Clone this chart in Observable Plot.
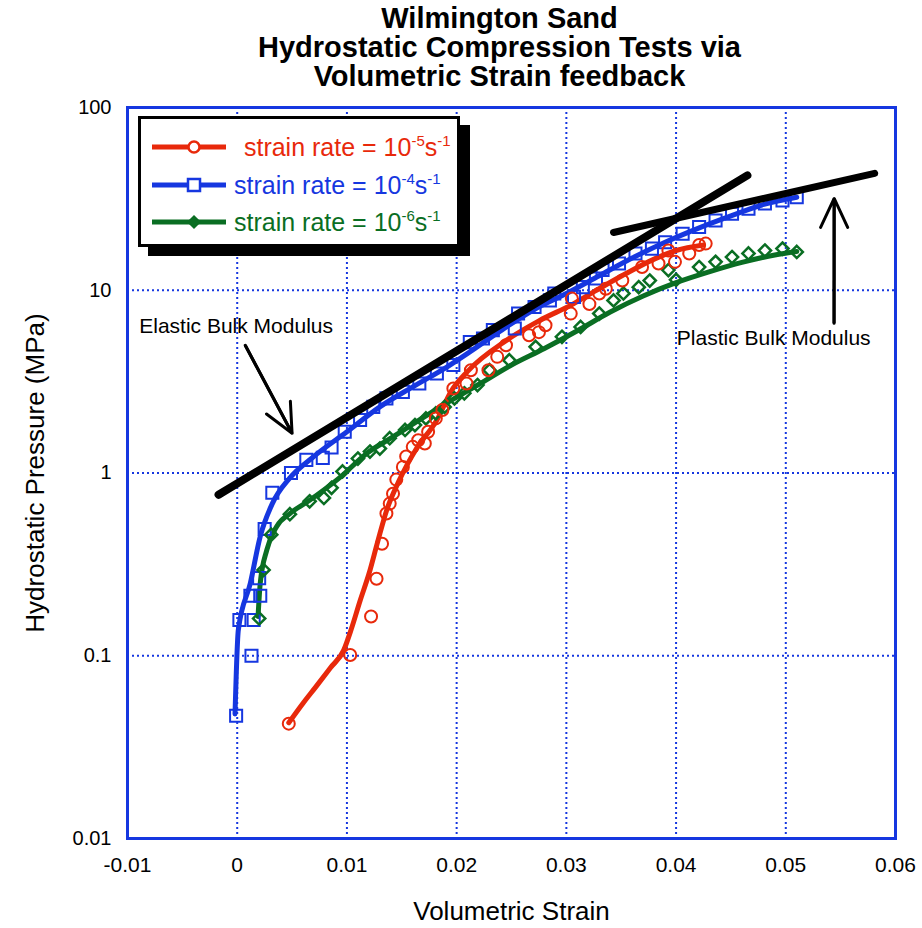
<!DOCTYPE html>
<html>
<head>
<meta charset="utf-8">
<script src="https://cdn.jsdelivr.net/npm/d3@7"></script>
<script src="https://cdn.jsdelivr.net/npm/@observablehq/plot@0.6"></script>
<style>
  html, body { margin: 0; padding: 0; background: #fff; }
  #wrap { position: relative; width: 922px; height: 928px; font-family: "Liberation Sans", Arial, sans-serif; }
  #legend { position: absolute; left: 138px; top: 116px; width: 322px; height: 131px; box-sizing: border-box;
    border: 3px solid #000; box-shadow: 10px 9px 0 #000; background: #fff; }
  #legend .row { position: absolute; left: 0; height: 30px; font-size: 25px; line-height: 30px; white-space: nowrap; }
  #legend sup { font-size: 15px; vertical-align: 10px; line-height: 0; }
  #legend svg { position: absolute; left: 11px; }
</style>
</head>
<body>
<div id="wrap"></div>
<script>
const title = ["Wilmington Sand", "Hydrostatic Compression Tests via", "Volumetric Strain feedback"];
const titleDy = [-89, -60, -31];
const xLabel = "Volumetric Strain";
const yLabel = "Hydrostatic Pressure (MPa)";
const xTicks = [-0.01, 0, 0.01, 0.02, 0.03, 0.04, 0.05, 0.06];
const yTicks = [0.01, 0.1, 1, 10, 100];

const seriesNames = ["1e-5", "1e-4", "1e-6"];
const seriesColors = ["#e8290b", "#1637e0", "#0a6e23"];

// strain rate 1e-4 (blue squares)
const blueX = [-0.0001, 0.0002, 0.0013, 0.0015, 0.0012, 0.0021, 0.0020, 0.0025, 0.0032, 0.0049, 0.0063, 0.0078, 0.0086, 0.0098, 0.0112, 0.0124, 0.0136, 0.0151, 0.0166, 0.0182, 0.0197, 0.0212, 0.0224, 0.0233, 0.0253, 0.0256, 0.0271, 0.0285, 0.0289, 0.0307, 0.0315, 0.0327, 0.0333, 0.0348, 0.0363, 0.0378, 0.0390, 0.0406, 0.0421, 0.0436, 0.0451, 0.0466, 0.0481, 0.0497, 0.0510];
const blueY = [0.047, 0.157, 0.100, 0.157, 0.213, 0.213, 0.266, 0.494, 0.78, 1.0, 1.18, 1.21, 1.38, 1.68, 1.95, 2.30, 2.56, 2.78, 3.09, 3.50, 3.9, 5.2, 5.44, 6.05, 6.17, 7.46, 8.1, 8.8, 9.6, 9.2, 10.4, 11.6, 12.9, 14.0, 15.9, 16.9, 18.3, 20.4, 22.2, 24.1, 26.2, 27.9, 29.8, 31.0, 32.3];
const blueLineX = [-0.0002, 0.0001, 0.0012, 0.0021, 0.0032, 0.0048, 0.0069, 0.0100, 0.0130, 0.0160, 0.0191, 0.0212, 0.0240, 0.0270, 0.0300, 0.0330, 0.0360, 0.0390, 0.0420, 0.0450, 0.0480, 0.0510];
const blueLineY = [0.048, 0.138, 0.25, 0.45, 0.68, 0.94, 1.22, 1.68, 2.3, 2.96, 3.8, 4.6, 6.0, 7.8, 9.6, 12.0, 15.0, 18.3, 21.8, 25.5, 29.5, 32.3];

// strain rate 1e-5 (red circles)
const redX = [0.0047, 0.0103, 0.0122, 0.0127, 0.0132, 0.0136, 0.0139, 0.0142, 0.0145, 0.0151, 0.0154, 0.0160, 0.0165, 0.0171, 0.0174, 0.0181, 0.0187, 0.0197, 0.0209, 0.0213, 0.0229, 0.0237, 0.0245, 0.0266, 0.0275, 0.0281, 0.0304, 0.0305, 0.0321, 0.0330, 0.0336, 0.0351, 0.0369, 0.0384, 0.0393, 0.0399, 0.0412, 0.0421, 0.0427];
const redY = [0.0425, 0.101, 0.164, 0.264, 0.41, 0.60, 0.68, 0.77, 0.92, 1.08, 1.23, 1.39, 1.51, 1.45, 1.68, 1.99, 2.21, 2.9, 3.09, 3.65, 3.65, 4.32, 5.0, 5.67, 5.9, 6.43, 7.45, 9.0, 8.4, 9.6, 10.2, 11.3, 13.4, 14.0, 16.5, 14.3, 15.9, 17.7, 18.0];
const redLineX = [0.0047, 0.0060, 0.0072, 0.0085, 0.0097, 0.0104, 0.0112, 0.0120, 0.0128, 0.0136, 0.0148, 0.0163, 0.0182, 0.0195, 0.0210, 0.0245, 0.0275, 0.0306, 0.0330, 0.0354, 0.0380, 0.0400, 0.0425];
const redLineY = [0.043, 0.055, 0.068, 0.086, 0.107, 0.14, 0.2, 0.28, 0.42, 0.62, 0.92, 1.35, 1.95, 2.8, 3.6, 5.3, 6.8, 8.4, 10.2, 12.3, 14.8, 16.5, 17.7];

// strain rate 1e-6 (green diamonds)
const greenX = [0.0020, 0.0024, 0.0031, 0.0048, 0.0066, 0.0079, 0.0086, 0.0096, 0.0110, 0.0121, 0.0130, 0.0139, 0.0153, 0.0162, 0.0172, 0.0181, 0.0189, 0.0198, 0.0207, 0.0219, 0.0230, 0.0248, 0.0272, 0.0296, 0.0313, 0.0330, 0.0343, 0.0352, 0.0366, 0.0376, 0.0393, 0.0400, 0.0421, 0.0436, 0.0451, 0.0466, 0.0481, 0.0497, 0.0510];
const greenY = [0.16, 0.295, 0.46, 0.595, 0.70, 0.73, 0.83, 1.02, 1.2, 1.31, 1.36, 1.55, 1.72, 1.83, 1.99, 2.12, 2.30, 2.56, 2.73, 3.03, 3.65, 4.14, 4.9, 5.56, 6.3, 7.46, 8.8, 9.6, 10.4, 11.3, 12.9, 11.4, 13.4, 14.3, 15.2, 15.9, 16.5, 16.9, 16.2];
const greenLineX = [0.0019, 0.0021, 0.0027, 0.0036, 0.0048, 0.0066, 0.0094, 0.0118, 0.0140, 0.0160, 0.0180, 0.0200, 0.0220, 0.0250, 0.0280, 0.0310, 0.0340, 0.0370, 0.0400, 0.0430, 0.0460, 0.0490, 0.0510];
const greenLineY = [0.164, 0.25, 0.38, 0.51, 0.60, 0.71, 0.95, 1.28, 1.55, 1.85, 2.2, 2.6, 3.05, 3.9, 4.8, 6.0, 7.6, 9.3, 11.0, 12.6, 14.2, 15.6, 16.3];

// modulus tangent lines
const elasticX = [-0.0017, 0.0465];
const elasticY = [0.76, 42.5];
const plasticX = [0.0343, 0.0581];
const plasticY = [20.7, 43.6];

// annotations
const annoText = ["Elastic Bulk Modulus", "Plastic Bulk Modulus"];
const annoX = [-0.0001, 0.0489];
const annoY = [6.36, 5.47];
const arrowX1 = [0.00073, 0.0544];
const arrowY1 = [5.0, 6.6];
const arrowX2 = [0.0050, 0.05441];
const arrowY2 = [1.65, 31.8];

const zip = (xs, ys) => xs.map((x, i) => ({x, y: ys[i]}));
const blue = zip(blueX, blueY), red = zip(redX, redY), green = zip(greenX, greenY);
const blueLine = zip(blueLineX, blueLineY), redLine = zip(redLineX, redLineY), greenLine = zip(greenLineX, greenLineY);
const elastic = zip(elasticX, elasticY), plastic = zip(plasticX, plasticY);
const annos = annoText.map((t, i) => ({t, x: annoX[i], y: annoY[i]}));
const arrows = arrowX1.map((x1, i) => ({x1, y1: arrowY1[i], x2: arrowX2[i], y2: arrowY2[i]}));
const titleRows = title.map((t, i) => ({t, dy: titleDy[i]}));

const gridColor = "#1637e0";
const font = "Liberation Sans, Arial, sans-serif";

const chart = Plot.plot({
  width: 922,
  height: 928,
  marginTop: 107,
  marginBottom: 90,
  marginLeft: 127,
  marginRight: 27,
  style: {fontFamily: font, background: "white", overflow: "visible"},
  x: {domain: [-0.01, 0.06]},
  y: {type: "log", domain: [0.01, 100]},
  marks: [
    Plot.gridX(xTicks, {stroke: gridColor, strokeOpacity: 1, strokeWidth: 2, strokeDasharray: "2,3"}),
    Plot.gridY(yTicks, {stroke: gridColor, strokeOpacity: 1, strokeWidth: 2, strokeDasharray: "2,3"}),
    Plot.axisX(xTicks, {tickSize: 0, tickPadding: 19, fontSize: 21, fontFamily: "Liberation Sans Narrow, Liberation Sans, Arial, sans-serif", tickFormat: d => String(d), label: null}),
    Plot.axisY(yTicks, {tickSize: 0, tickPadding: 16, fontSize: 20, tickFormat: d => String(d), label: null}),
    Plot.frame({stroke: gridColor, strokeWidth: 3}),
    Plot.line(blueLine, {x: "x", y: "y", stroke: seriesColors[1], strokeWidth: 5, curve: "monotone-x"}),
    Plot.line(greenLine, {x: "x", y: "y", stroke: seriesColors[2], strokeWidth: 5, curve: "monotone-x"}),
    Plot.line(redLine, {x: "x", y: "y", stroke: seriesColors[0], strokeWidth: 5, curve: "monotone-x"}),
    Plot.dot(blue, {x: "x", y: "y", symbol: "square", r: 6.8, stroke: seriesColors[1], strokeWidth: 2, fill: "none"}),
    Plot.dot(green, {x: "x", y: "y", symbol: "diamond2", r: 5.5, stroke: seriesColors[2], strokeWidth: 2.5, fill: "none"}),
    Plot.dot(red, {x: "x", y: "y", symbol: "circle", r: 6, stroke: seriesColors[0], strokeWidth: 2, fill: "none"}),
    Plot.line(elastic, {x: "x", y: "y", stroke: "#000", strokeWidth: 8}),
    Plot.line(plastic, {x: "x", y: "y", stroke: "#000", strokeWidth: 7}),
    Plot.link(arrows, {x1: "x1", y1: "y1", x2: "x2", y2: "y2", stroke: "#000", strokeWidth: 3}),
    Plot.arrow(arrows, {x1: "x1", y1: "y1", x2: "x2", y2: "y2", stroke: "#000", strokeWidth: 3, headLength: 16, headAngle: 50}),
    Plot.text(annos, {x: "x", y: "y", text: "t", fontSize: 21, fill: "#000", textAnchor: "middle", lineAnchor: "middle"}),
    Plot.text(titleRows, {frameAnchor: "top", dx: -12, text: "t", fontSize: 29, fontWeight: "bold", fill: "#000", textAnchor: "middle", lineAnchor: "middle"}),
    Plot.text([xLabel], {frameAnchor: "bottom", dy: 73, fontSize: 26, fill: "#000", textAnchor: "middle", lineAnchor: "middle"}),
    Plot.text([yLabel], {frameAnchor: "left", dx: -92, rotate: -90, fontSize: 26, fill: "#000", textAnchor: "middle", lineAnchor: "middle"})
  ]
});

document.getElementById("wrap").appendChild(chart);

// shift each title row to its line position
chart.querySelectorAll("text").forEach(t => {
  const idx = title.indexOf(t.textContent);
  if (idx >= 0) {
    const cur = t.getAttribute("transform") || "";
    t.setAttribute("transform", cur + ` translate(0,${titleDy[idx]})`);
  }
});

// legend
const legendLabels = [
  {color: seriesColors[0], sym: "circle", html: "&nbsp;strain rate = 10<sup>-5</sup>s<sup>-1</sup>", left: 96},
  {color: seriesColors[1], sym: "square", html: "strain rate = 10<sup>-4</sup>s<sup>-1</sup>", left: 93},
  {color: seriesColors[2], sym: "diamond", html: "strain rate = 10<sup>-6</sup>s<sup>-1</sup>", left: 93}
];
const legend = document.createElement("div");
legend.id = "legend";
const rowTops = [13, 51, 88];
legendLabels.forEach((d, i) => {
  const s = document.createElementNS("http://www.w3.org/2000/svg", "svg");
  s.setAttribute("width", 76); s.setAttribute("height", 20);
  s.style.top = (rowTops[i] + 5) + "px";
  let m = "";
  if (d.sym === "circle") m = `<circle cx="42" cy="10" r="5.5" fill="#fff" stroke="${d.color}" stroke-width="2.5"/>`;
  if (d.sym === "square") m = `<rect x="36" y="4" width="12" height="12" fill="#fff" stroke="${d.color}" stroke-width="2.5"/>`;
  if (d.sym === "diamond") m = `<path d="M42,4 L48,10 L42,16 L36,10 Z" fill="${d.color}" stroke="${d.color}" stroke-width="1.5"/>`;
  s.innerHTML = `<line x1="0" x2="74" y1="10" y2="10" stroke="${d.color}" stroke-width="5"/>` + m;
  legend.appendChild(s);
  const row = document.createElement("div");
  row.className = "row";
  row.style.top = rowTops[i] + "px";
  row.style.left = d.left + "px";
  row.style.color = d.color;
  row.innerHTML = d.html;
  legend.appendChild(row);
});
document.getElementById("wrap").appendChild(legend);
</script>
</body>
</html>
